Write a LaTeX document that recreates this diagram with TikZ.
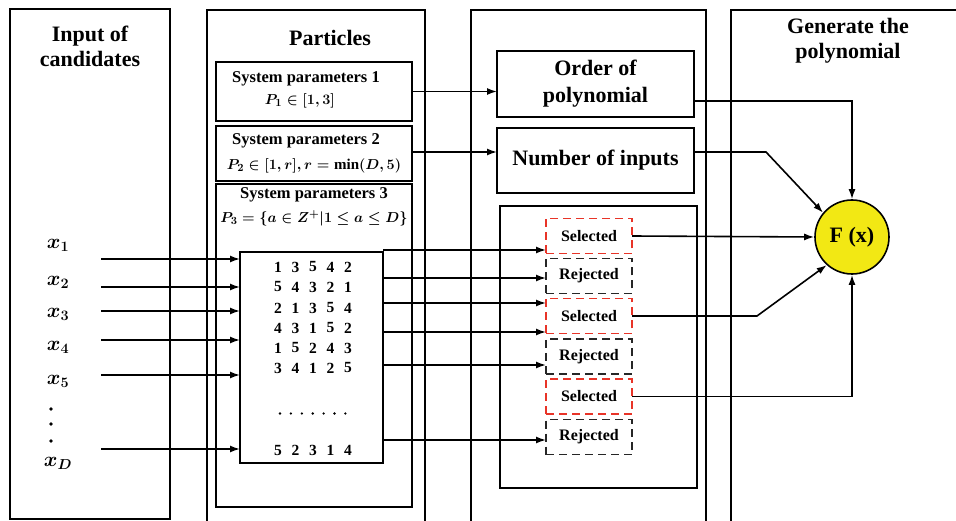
\documentclass[tikz,border=0pt]{standalone}
\usepackage{amsmath,amssymb,bm}
\usepackage{fontspec}
\setmainfont{Liberation Serif}
\usetikzlibrary{arrows.meta}
\definecolor{selred}{RGB}{232,52,40}
\definecolor{fyellow}{RGB}{242,232,20}
\begin{document}
\begin{tikzpicture}[x=1pt,y=-1pt,
  panel/.style={draw,line width=1.6pt,inner sep=0pt,outer sep=0pt},
  box/.style={draw,line width=1.6pt,inner sep=0pt,outer sep=0pt},
  title/.style={font=\fontsize{22}{25}\selectfont\bfseries,align=center},
  ptxt/.style={font=\fontsize{16.5}{19}\selectfont\bfseries,inner sep=0pt},
  mtxt/.style={font=\fontsize{15}{18}\selectfont\boldmath,inner sep=0pt},
  dig/.style={font=\fontsize{15.5}{18}\selectfont\bfseries,inner sep=0pt},
  xlab/.style={font=\fontsize{21}{24}\selectfont\boldmath,inner sep=0pt},
  selbox/.style={draw=selred,line width=1.7pt,dash pattern=on 8pt off 5pt,minimum width=86pt,minimum height=35pt,inner sep=0pt,outer sep=0pt,font=\fontsize{16}{19}\selectfont\bfseries},
  rejbox/.style={selbox,draw=black!85},
  arr/.style={-{Latex[length=10pt,width=7pt]},line width=1.6pt},
  ln/.style={line width=1.6pt}]
\clip (0,0) rectangle (956,521);
% panels
\node[panel,minimum width=160pt,minimum height=510pt] (p1) at (90,264) {};
\node[panel,minimum width=218pt,minimum height=520pt] (p2) at (316,270) {};
\node[panel,minimum width=235pt,minimum height=520pt] (p3) at (588.5,270) {};
\node[panel,minimum width=239pt,minimum height=520pt] (p4) at (850.5,270) {};
% titles
\node[title] (t1) at (90,46) {Input of\\candidates};
\node[title] (t2) at (330,38) {Particles};
\node[title] (t4) at (848,41) {Generate the\\polynomial};
% system parameter boxes
\node[box,minimum width=196pt,minimum height=59pt] (sp1) at (314,91.5) {};
\node[ptxt] (sp1a) at (306,79) {System parameters 1};
\node[mtxt] (sp1b) at (300,101) {$P_1\in[1,3]$};
\node[box,minimum width=196pt,minimum height=55pt] (sp2) at (314,153.5) {};
\node[ptxt] (sp2a) at (306,141) {System parameters 2};
\node[mtxt] (sp2b) at (314,166) {$P_2\in[1,r],r=\min(D,5)$};
\node[box,minimum width=196pt,minimum height=323pt] (sp3) at (314,345.5) {};
\node[ptxt] (sp3a) at (314,195) {System parameters 3};
\node[mtxt] (sp3b) at (314,218) {$P_3=\{a\in Z^{+}|1\le a\le D\}$};
% matrix
\node[box,minimum width=143pt,minimum height=211pt] (mat) at (311.5,357.5) {};
\foreach \row/\yy [count=\i] in {{1,3,5,4,2}/267,{5,4,3,2,1}/287,{2,1,3,5,4}/308,{4,3,1,5,2}/328,{1,5,2,4,3}/348,{3,4,1,2,5}/368,{5,2,3,1,4}/450}{
  \foreach \d [count=\j] in \row {
    \node[dig] (m\i-\j) at (260.5+17.5*\j,\yy) {\d};
  }
}
\foreach \k in {0,...,6}{\fill (280+10.9*\k,413.5) circle (1.3pt);}
% inputs
\foreach \yy/\lab/\ly [count=\i] in {259/1/245,287/2/282,311/3/314,340/4/347,375/5/381,449/D/463}{
  \node[xlab] (x\i) at (58,\ly) {$x_{\lab}$};
  \coordinate (in\i) at (101,\yy);
  \draw[arr] (in\i) -- (in\i -| mat.west);
}
\foreach \yy in {409,424,441}{\fill (51,\yy) circle (1.9pt);}
% panel 3
\node[box,minimum width=197pt,minimum height=66pt,font=\fontsize{22}{27}\selectfont\bfseries,align=center] (order) at (595.5,84) {Order of\\polynomial};
\node[box,minimum width=197pt,minimum height=65pt,font=\fontsize{22}{25}\selectfont\bfseries] (num) at (595.5,160.5) {Number of inputs};
\node[box,minimum width=197pt,minimum height=282pt] (inner) at (598.5,347) {};
\node[selbox] (s1) at (589,236) {Selected};
\node[rejbox] (r1) at (589,276) {Rejected};
\node[selbox] (s2) at (589,316) {Selected};
\node[rejbox] (r2) at (589,356.5) {Rejected};
\node[selbox] (s3) at (589,396.5) {Selected};
\node[rejbox] (r3) at (589,437) {Rejected};
% F(x)
\node[circle,draw,line width=1.6pt,fill=fyellow,minimum size=74pt,inner sep=0pt,font=\fontsize{22}{25}\selectfont\bfseries] (F) at (852,237) {F (x)};
% connectors sys params -> panel 3
\draw[arr] (sp1.east) -- (sp1.east -| order.west);
\draw[arr] ([yshift=1.5pt]sp2.east) -- ([yshift=1.5pt]sp2.east -| num.west);
% matrix -> decisions
\coordinate (a1) at (mat.east |- 0,250);
\coordinate (a2) at (mat.east |- 0,278);
\coordinate (a3) at (mat.east |- 0,303);
\coordinate (a4) at (mat.east |- 0,332);
\coordinate (a5) at (mat.east |- 0,365);
\coordinate (a6) at (mat.east |- 0,440);
\draw[arr] (a1) -- (a1 -| s1.west);
\draw[arr] (a2) -- (a2 -| r1.west);
\draw[arr] (a3) -- (a3 -| s2.west);
\draw[arr] (a4) -- (a4 -| s2.west);
\draw[arr] (a5) -- (a5 -| r2.west);
\draw[arr] (a6) -- (a6 -| r3.west);
% to F
\coordinate (o1) at ([yshift=-17pt]order.east);
\draw[arr] (o1) -| (F.north);
\coordinate (n1) at ([yshift=8.5pt]num.east);
\coordinate (n2) at (766,152);
\draw[arr] (n1) -- (n2) -- (F.140);
\draw[arr] (s1.east) -- (F.west);
\coordinate (q2) at (757,316);
\draw[arr] (s2.east) -- (q2) -- (F.228);
\draw[arr] (s3.east) -| (F.south);
\end{tikzpicture}
\end{document}
